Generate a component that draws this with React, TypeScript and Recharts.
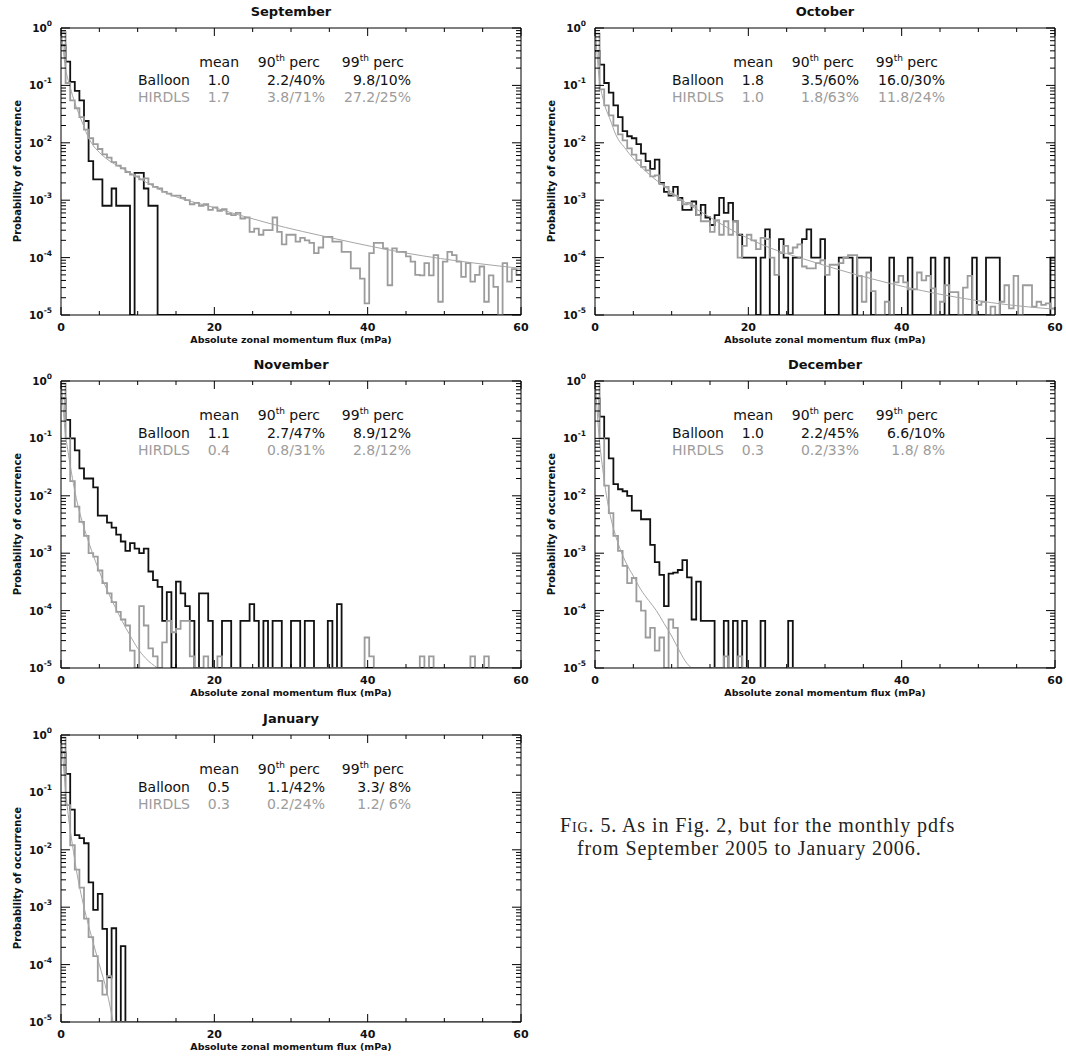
import React from 'react';
import { LineChart, Line, XAxis, YAxis } from 'recharts';

// histogram bins are 0.6 mPa wide; bins past the end of an array are empty
const BIN_WIDTH = 0.6;
const X_MAX = 60;
const FLOOR = 1e-5;

const X_TICKS = [0, 20, 40, 60];
const X_MINOR = [5, 10, 15, 25, 30, 35, 45, 50, 55];
const Y_TICKS = [1, 0.1, 0.01, 0.001, 0.0001, 0.00001];
const Y_DECADES = [0.1, 0.01, 0.001, 0.0001, 0.00001];
const Y_MULT = [2, 3, 4, 5, 6, 7, 8, 9];
const Y_MINOR = Y_DECADES.flatMap(d => Y_MULT.map(m => m * d));
const X_ALL = [...X_TICKS, ...X_MINOR];
const Y_ALL = [...Y_TICKS, ...Y_MINOR];

// September
const sepBalloon = [0.5, 0.26, 0.115, 0.08, 0.055, 0.024, 0.0048, 0.0023, 0.0023, 0.0008,
  0.0008, 0.0016, 0.0008, 0.0008, 0.0008, 0, 0.003, 0.003, 0.0016, 0.0008,
  0.0008];
const sepHirdls = [0.85, 0.11, 0.055, 0.04, 0.028, 0.017, 0.012, 0.0095, 0.0078, 0.0063,
  0.0055, 0.0046, 0.004, 0.0036, 0.0031, 0.0028, 0.0026, 0.0023, 0.0024, 0.0019,
  0.0017, 0.0016, 0.0014, 0.0013, 0.0012, 0.0012, 0.0011, 0.001, 0.00085, 0.0009,
  0.0008, 0.00085, 0.00068, 0.00075, 0.00065, 0.0007, 0.00058, 0.00055, 0.0006, 0.00048,
  0.0005, 0.00028, 0.00032, 0.00025, 0.0003, 0.0003, 0.0005, 0.00028, 0.00017, 0.00025,
  0.00025, 0.00019, 0.00022, 0.0002, 0.00018, 0.00012, 0.00015, 0.00023, 0.00023, 0.00019,
  0.00019, 0.000126, 0.000126, 0.000065, 0.000065, 0.000043, 0.000016, 0.00012, 0.00018, 0.00018,
  0.000145, 0.000033, 0.000145, 0.000126, 0.000126, 0.000105, 0.000085, 0.00005, 0.000049, 0.00008,
  0.000049, 0.00011, 0.000017, 0.000085, 0.000126, 0.00011, 0.000085, 0.000046, 0.00008, 0.000038,
  0.00005, 0.00007, 0.000017, 0.000049, 0.000031, 0, 0.00008, 0.000038, 0.000063, 0.00005];
const sepFitX = [0.05, 0.5, 1.2, 1.8, 2.5, 3, 3.5, 4, 5, 6, 8, 10, 14, 20, 27, 36, 45, 54, 60];
const sepFitP = [0.9, 0.24, 0.093, 0.05, 0.028, 0.019, 0.013, 0.0098, 0.0068, 0.0052, 0.0036, 0.0025,
  0.0013, 0.00074, 0.0004, 0.00021, 0.00012, 0.00008, 0.000065];
const sepBalloonStats = ['1.0', '2.2/40%', '9.8/10%'];
const sepHirdlsStats = ['1.7', '3.8/71%', '27.2/25%'];

// October
const octBalloon = [0.4, 0.23, 0.11, 0.075, 0.045, 0.028, 0.016, 0.013, 0.012, 0.0095,
  0.0065, 0.0048, 0.0035, 0.0051, 0.002, 0.0014, 0.0012, 0.0017, 0.0011, 0.00068,
  0.00068, 0.00095, 0.00055, 0.00083, 0.0005, 0.00037, 0.00055, 0.0011, 0.0006, 0.0009,
  0.00043, 0.00025, 0.0001, 0.0001, 0.0001, 0, 0.0001, 0.00031, 0, 0,
  0.00021, 0.0001, 0, 0.0001, 0.0001, 0.00021, 0.00031, 0.0001, 0.0001, 0.00021,
  0, 0, 0, 0.0001, 0.0001, 0.0001, 0, 0.0001, 0.0001, 0.0001,
  0, 0, 0, 0, 0.0001, 0, 0, 0, 0.0001, 0,
  0, 0, 0, 0.0001, 0, 0, 0.0001, 0, 0, 0,
  0, 0, 0.0001, 0, 0, 0.0001, 0.0001, 0.0001, 0, 0,
  0, 0, 0, 0, 0, 0, 0, 0, 0, 0.0001];
const octHirdls = [0.8, 0.085, 0.045, 0.03, 0.02, 0.014, 0.011, 0.008, 0.0062, 0.005,
  0.0038, 0.0033, 0.0026, 0.0027, 0.0019, 0.0017, 0.0013, 0.0012, 0.001, 0.00085,
  0.0009, 0.0008, 0.00055, 0.00043, 0.00043, 0.00028, 0.00045, 0.00025, 0.00043, 0.00025,
  0.00043, 0.0001, 0.00016, 0.00025, 0.0002, 0.00014, 0.00022, 0.00021, 0.0001, 0.00005,
  0.00012, 0.00016, 0.00012, 0.00015, 0.00017, 0.00007, 0.000065, 0.000065, 0.00008, 0.00009,
  0.00005, 0.000075, 0.000075, 0.00008, 0.0001, 0.00011, 0.00011, 0.000048, 0.000017, 0.000055,
  0.000026, 0, 0, 0.000017, 0, 0.000037, 0.000048, 0.000037, 0.000028, 0.000028,
  0.000055, 0.00004, 0.000048, 0.000029, 0, 0.000017, 0.000033, 0.000025, 0.000025, 0,
  0.00003, 0.000048, 0, 0.000015, 0.000017, 0, 0.000014, 0, 0.000017, 0.000033,
  0.000013, 0.000048, 0, 0.000033, 0.000033, 0.000014, 0.000017, 0.000015, 0.000016, 0.000013];
const octFitX = [0.05, 0.5, 1.1, 2, 2.7, 4, 4.9, 7.1, 9.4, 11.6, 13.8, 18.3, 22.7, 27.2, 36, 45, 54, 60];
const octFitP = [0.9, 0.15, 0.055, 0.025, 0.014, 0.0078, 0.0055, 0.0028, 0.0016, 0.00095, 0.00063,
  0.00028, 0.00015, 0.000095, 0.000043, 0.000023, 0.000015, 0.0000126];
const octBalloonStats = ['1.8', '3.5/60%', '16.0/30%'];
const octHirdlsStats = ['1.0', '1.8/63%', '11.8/24%'];

// November
const novBalloon = [0.5, 0.21, 0.1, 0.062, 0.03, 0.02, 0.02, 0.014, 0.0045, 0.0045,
  0.0034, 0.0028, 0.0021, 0.0016, 0.0011, 0.0015, 0.0012, 0.001, 0.0012, 0.00048,
  0.00034, 0.00026, 0.000066, 0.00021, 0, 0.00032, 0.0002, 0.00012, 0.000066, 0,
  0.0002, 0.0002, 0.000066, 0, 0, 0.000066, 0.000066, 0, 0, 0.000066,
  0.000066, 0.00013, 0.000066, 0, 0.000066, 0, 0.000066, 0.000066, 0, 0,
  0.000066, 0.000066, 0, 0.000066, 0.000066, 0, 0, 0, 0.000066, 0,
  0.00013];
const novHirdls = [0.9, 0.1, 0.018, 0.0065, 0.0035, 0.002, 0.001, 0.00087, 0.0005, 0.0003,
  0.0002, 0.00014, 0.000095, 0.00007, 0.000055, 0.00002, 0, 0.00012, 0.000055, 0.000022,
  0.000016, 0, 0.000028, 0.000066, 0.000042, 0.000048, 0.000066, 0.000066, 0.000016, 0,
  0, 0.000016, 0, 0, 0.000016, 0, 0, 0, 0, 0,
  0, 0, 0, 0, 0, 0, 0, 0, 0, 0,
  0, 0, 0, 0, 0, 0, 0, 0, 0, 0,
  0, 0, 0, 0, 0, 0, 0.000034, 0.000016, 0, 0,
  0, 0, 0, 0, 0, 0, 0, 0, 0.000016, 0,
  0.000016, 0, 0, 0, 0, 0, 0, 0, 0, 0.000016,
  0, 0, 0.000016];
const novFitX = [0.05, 0.5, 1, 1.5, 2, 3, 4, 5, 6, 7, 8, 9, 10, 11, 12.6];
const novFitP = [0.9, 0.15, 0.05, 0.02, 0.009, 0.0028, 0.0011, 0.00048, 0.00023, 0.00012, 0.000065,
  0.000037, 0.000022, 0.000015, 0.00001];
const novBalloonStats = ['1.1', '2.7/47%', '8.9/12%'];
const novHirdlsStats = ['0.4', '0.8/31%', '2.8/12%'];

// December
const decBalloon = [0.5, 0.24, 0.1, 0.045, 0.016, 0.013, 0.012, 0.01, 0.0055, 0.0055,
  0.0039, 0.0039, 0.0014, 0.0007, 0.00042, 0.00012, 0.00044, 0.00046, 0.00051, 0.00076,
  0.00038, 0.00007, 0.00032, 0.000066, 0.000066, 0.000066, 0, 0, 0.000066, 0,
  0.000066, 0, 0.000066, 0, 0, 0, 0.000066, 0, 0, 0,
  0, 0, 0.000066];
const decHirdls = [0.9, 0.1, 0.015, 0.005, 0.002, 0.0011, 0.0006, 0.0003, 0.00037, 0.000145,
  0.0001, 0.000034, 0.00005, 0.00002, 0.000034, 0, 0.00007, 0.00005, 0, 0,
  0, 0, 0, 0, 0, 0, 0, 0, 0.000016, 0,
  0, 0.000016];
const decFitX = [0.05, 0.5, 1, 1.5, 2, 3, 4, 5, 6, 7, 8, 9, 10, 11, 12, 12.6];
const decFitP = [0.9, 0.12, 0.03, 0.01, 0.0045, 0.0015, 0.0007, 0.0004, 0.00023, 0.00015, 0.0001,
  0.00006, 0.000036, 0.00002, 0.000012, 0.00001];
const decBalloonStats = ['1.0', '2.2/45%', '6.6/10%'];
const decHirdlsStats = ['0.3', '0.2/33%', '1.8/ 8%'];

// January
const janBalloon = [0.5, 0.21, 0.05, 0.018, 0.016, 0.013, 0.0027, 0.0009, 0.0017, 0.00042,
  0.00006, 0.00043, 0, 0.00021];
const janHirdls = [0.9, 0.06, 0.012, 0.0045, 0.0022, 0.00063, 0.0003, 0.00014, 0.000052, 0.00003,
  0.000063];
const janFitX = [0.05, 0.5, 1, 1.5, 2, 3, 4, 5, 6, 6.8];
const janFitP = [0.9, 0.15, 0.035, 0.012, 0.0045, 0.001, 0.0003, 0.0001, 0.000033, 0.00001];
const janBalloonStats = ['0.5', '1.1/42%', '3.3/ 8%'];
const janHirdlsStats = ['0.3', '0.2/24%', '1.2/ 6%'];

const FONT = '"DejaVu Sans", sans-serif';
const BLACK = '#111';
const GREY = '#9c9c9c';
const PLOT_W = 460;
const PLOT_H = 287;

// each tick draws its own inward mark; majors get a label on the left/bottom
const BottomTick = (props: any) => {
  const { x, y, payload } = props;
  const major = X_TICKS.includes(payload.value);
  return (
    <g>
      <line x1={x} y1={y} x2={x} y2={y - (major ? 8 : 4)} stroke="#000" />
      {major && (
        <text x={x} y={y + 12} dy="0.35em" textAnchor="middle" fontFamily={FONT} fontSize={11} fontWeight="bold" fill={BLACK}>
          {payload.value}
        </text>
      )}
    </g>
  );
};

const TopTick = (props: any) => {
  const { x, y, payload } = props;
  const major = X_TICKS.includes(payload.value);
  return <line x1={x} y1={y} x2={x} y2={y + (major ? 8 : 4)} stroke="#000" />;
};

const LeftTick = (props: any) => {
  const { x, y, payload } = props;
  const major = Y_TICKS.includes(payload.value);
  const e = Math.round(Math.log10(payload.value));
  return (
    <g>
      <line x1={x} y1={y} x2={x + (major ? 9 : 5)} y2={y} stroke="#000" />
      {major && (
        <text x={x - 9} y={y} dy={4} textAnchor="end" fontFamily={FONT} fontSize={10.5} fontWeight="bold" fill={BLACK}>
          10<tspan dy={-6} fontSize={7.5}>{e}</tspan>
        </text>
      )}
    </g>
  );
};

const RightTick = (props: any) => {
  const { x, y, payload } = props;
  const major = Y_TICKS.includes(payload.value);
  return <line x1={x} y1={y} x2={x - (major ? 9 : 5)} y2={y} stroke="#000" />;
};

interface PanelProps {
  title: string;
  balloon: number[];
  hirdls: number[];
  fitX: number[];
  fitP: number[];
  balloonStats: string[];
  hirdlsStats: string[];
  left: number;
  top: number;
}

const Stat = ({ text, right, top, color }: { text: React.ReactNode; right: number; top: number; color: string }) => (
  <div style={{ position: 'absolute', left: right - 120, top, width: 120, textAlign: 'right', color, whiteSpace: 'pre' }}>
    {text}
  </div>
);

const Panel: React.FC<PanelProps> = ({ title, balloon, hirdls, fitX, fitP, balloonStats, hirdlsStats, left, top }) => {
  const nBins = Math.round(X_MAX / BIN_WIDTH);
  const rows = [];
  for (let i = 0; i <= nBins; i++) {
    const j = Math.min(i, nBins - 1);
    rows.push({
      x: +(i * BIN_WIDTH).toFixed(1),
      balloon: Math.max(balloon[j] ?? 0, FLOOR),
      hirdls: Math.max(hirdls[j] ?? 0, FLOOR),
    });
  }
  const fit = fitX.map((x, i) => ({ x, p: fitP[i] }));

  const xa = { type: 'number' as const, dataKey: 'x', domain: [0, X_MAX], allowDataOverflow: true, interval: 0 as const,
    stroke: '#000', ticks: X_ALL, height: 1, tickLine: false, tickSize: 0, tickMargin: 0 };
  const ya = { type: 'number' as const, scale: 'log' as const, domain: [FLOOR, 1], allowDataOverflow: true, interval: 0 as const,
    stroke: '#000', ticks: Y_ALL, width: 1, tickLine: false, tickSize: 0, tickMargin: 0 };

  const sup = (s: string) => <span style={{ fontSize: 9, verticalAlign: '6px', lineHeight: 0 }}>{s}</span>;

  return (
    <>
      <div style={{ position: 'absolute', left: left - 61, top: top - 28 }}>
        <LineChart width={531} height={355} data={rows} margin={{ top: 27, right: 9, bottom: 39, left: 60 }}>
          <XAxis xAxisId="x" {...xa} tick={<BottomTick />} />
          <XAxis xAxisId="xt" orientation="top" {...xa} tick={<TopTick />} />
          <YAxis yAxisId="y" {...ya} tick={<LeftTick />} />
          <YAxis yAxisId="yr" orientation="right" {...ya} tick={<RightTick />} />
          <Line xAxisId="x" yAxisId="y" type="stepAfter" dataKey="balloon" stroke={BLACK} strokeWidth={1.8}
            dot={false} activeDot={false} isAnimationActive={false} />
          <Line xAxisId="x" yAxisId="y" type="stepAfter" dataKey="hirdls" stroke={GREY} strokeWidth={1.8}
            dot={false} activeDot={false} isAnimationActive={false} />
          <Line xAxisId="x" yAxisId="y" data={fit} type="monotone" dataKey="p" stroke="#a6a6a6" strokeWidth={1}
            dot={false} activeDot={false} isAnimationActive={false} />
        </LineChart>
      </div>

      <div style={{ position: 'absolute', left, top: top - 24, width: PLOT_W, textAlign: 'center', fontFamily: FONT, fontSize: 13, fontWeight: 600, lineHeight: '16px', color: BLACK }}>
        {title}
      </div>
      <div style={{ position: 'absolute', left: left - 44 - PLOT_H / 2, top: top + 143 - 8, width: PLOT_H, height: 16, lineHeight: '16px', transform: 'rotate(-90deg)', textAlign: 'center', fontFamily: FONT, fontSize: 10, fontWeight: 'bold', color: BLACK }}>
        Probability of occurrence
      </div>
      <div style={{ position: 'absolute', left, top: top + 305, width: PLOT_W, textAlign: 'center', fontFamily: FONT, fontSize: 9.5, fontWeight: 'bold', lineHeight: '14px', color: BLACK }}>
        Absolute zonal momentum flux (mPa)
      </div>

      <div style={{ position: 'absolute', left: 0, top: 0, fontFamily: FONT, fontSize: 14, lineHeight: '17px' }}>
        <Stat text="mean" right={left + 178} top={top + 26} color={BLACK} />
        <Stat text={<>90{sup('th')} perc</>} right={left + 259} top={top + 26} color={BLACK} />
        <Stat text={<>99{sup('th')} perc</>} right={left + 343} top={top + 26} color={BLACK} />
        <div style={{ position: 'absolute', left: left + 77, top: top + 43.5, color: BLACK }}>Balloon</div>
        <div style={{ position: 'absolute', left: left + 77, top: top + 61, color: GREY }}>HIRDLS</div>
        <Stat text={balloonStats[0]} right={left + 169} top={top + 43.5} color={BLACK} />
        <Stat text={balloonStats[1]} right={left + 264} top={top + 43.5} color={BLACK} />
        <Stat text={balloonStats[2]} right={left + 350} top={top + 43.5} color={BLACK} />
        <Stat text={hirdlsStats[0]} right={left + 169} top={top + 61} color={GREY} />
        <Stat text={hirdlsStats[1]} right={left + 264} top={top + 61} color={GREY} />
        <Stat text={hirdlsStats[2]} right={left + 350} top={top + 61} color={GREY} />
      </div>
    </>
  );
};

const App: React.FC = () => {
  return (
    <div style={{ position: 'absolute', left: 0, top: 0, width: 1066, height: 1056, background: '#fff', overflow: 'hidden' }}>
      <Panel title="September" balloon={sepBalloon} hirdls={sepHirdls} fitX={sepFitX} fitP={sepFitP}
        balloonStats={sepBalloonStats} hirdlsStats={sepHirdlsStats} left={61} top={28} />
      <Panel title="October" balloon={octBalloon} hirdls={octHirdls} fitX={octFitX} fitP={octFitP}
        balloonStats={octBalloonStats} hirdlsStats={octHirdlsStats} left={595} top={28} />
      <Panel title="November" balloon={novBalloon} hirdls={novHirdls} fitX={novFitX} fitP={novFitP}
        balloonStats={novBalloonStats} hirdlsStats={novHirdlsStats} left={61} top={381} />
      <Panel title="December" balloon={decBalloon} hirdls={decHirdls} fitX={decFitX} fitP={decFitP}
        balloonStats={decBalloonStats} hirdlsStats={decHirdlsStats} left={595} top={381} />
      <Panel title="January" balloon={janBalloon} hirdls={janHirdls} fitX={janFitX} fitP={janFitP}
        balloonStats={janBalloonStats} hirdlsStats={janHirdlsStats} left={61} top={735} />

      <div style={{ position: 'absolute', left: 560, top: 814, fontFamily: '"Liberation Serif", serif', fontSize: 20, lineHeight: '23px', letterSpacing: 0.9, color: '#222' }}>
        <div><span style={{ fontVariant: 'small-caps' }}>Fig.</span> 5. As in Fig. 2, but for the monthly pdfs</div>
        <div style={{ paddingLeft: 17 }}>from September 2005 to January 2006.</div>
      </div>
    </div>
  );
};

export default App;
